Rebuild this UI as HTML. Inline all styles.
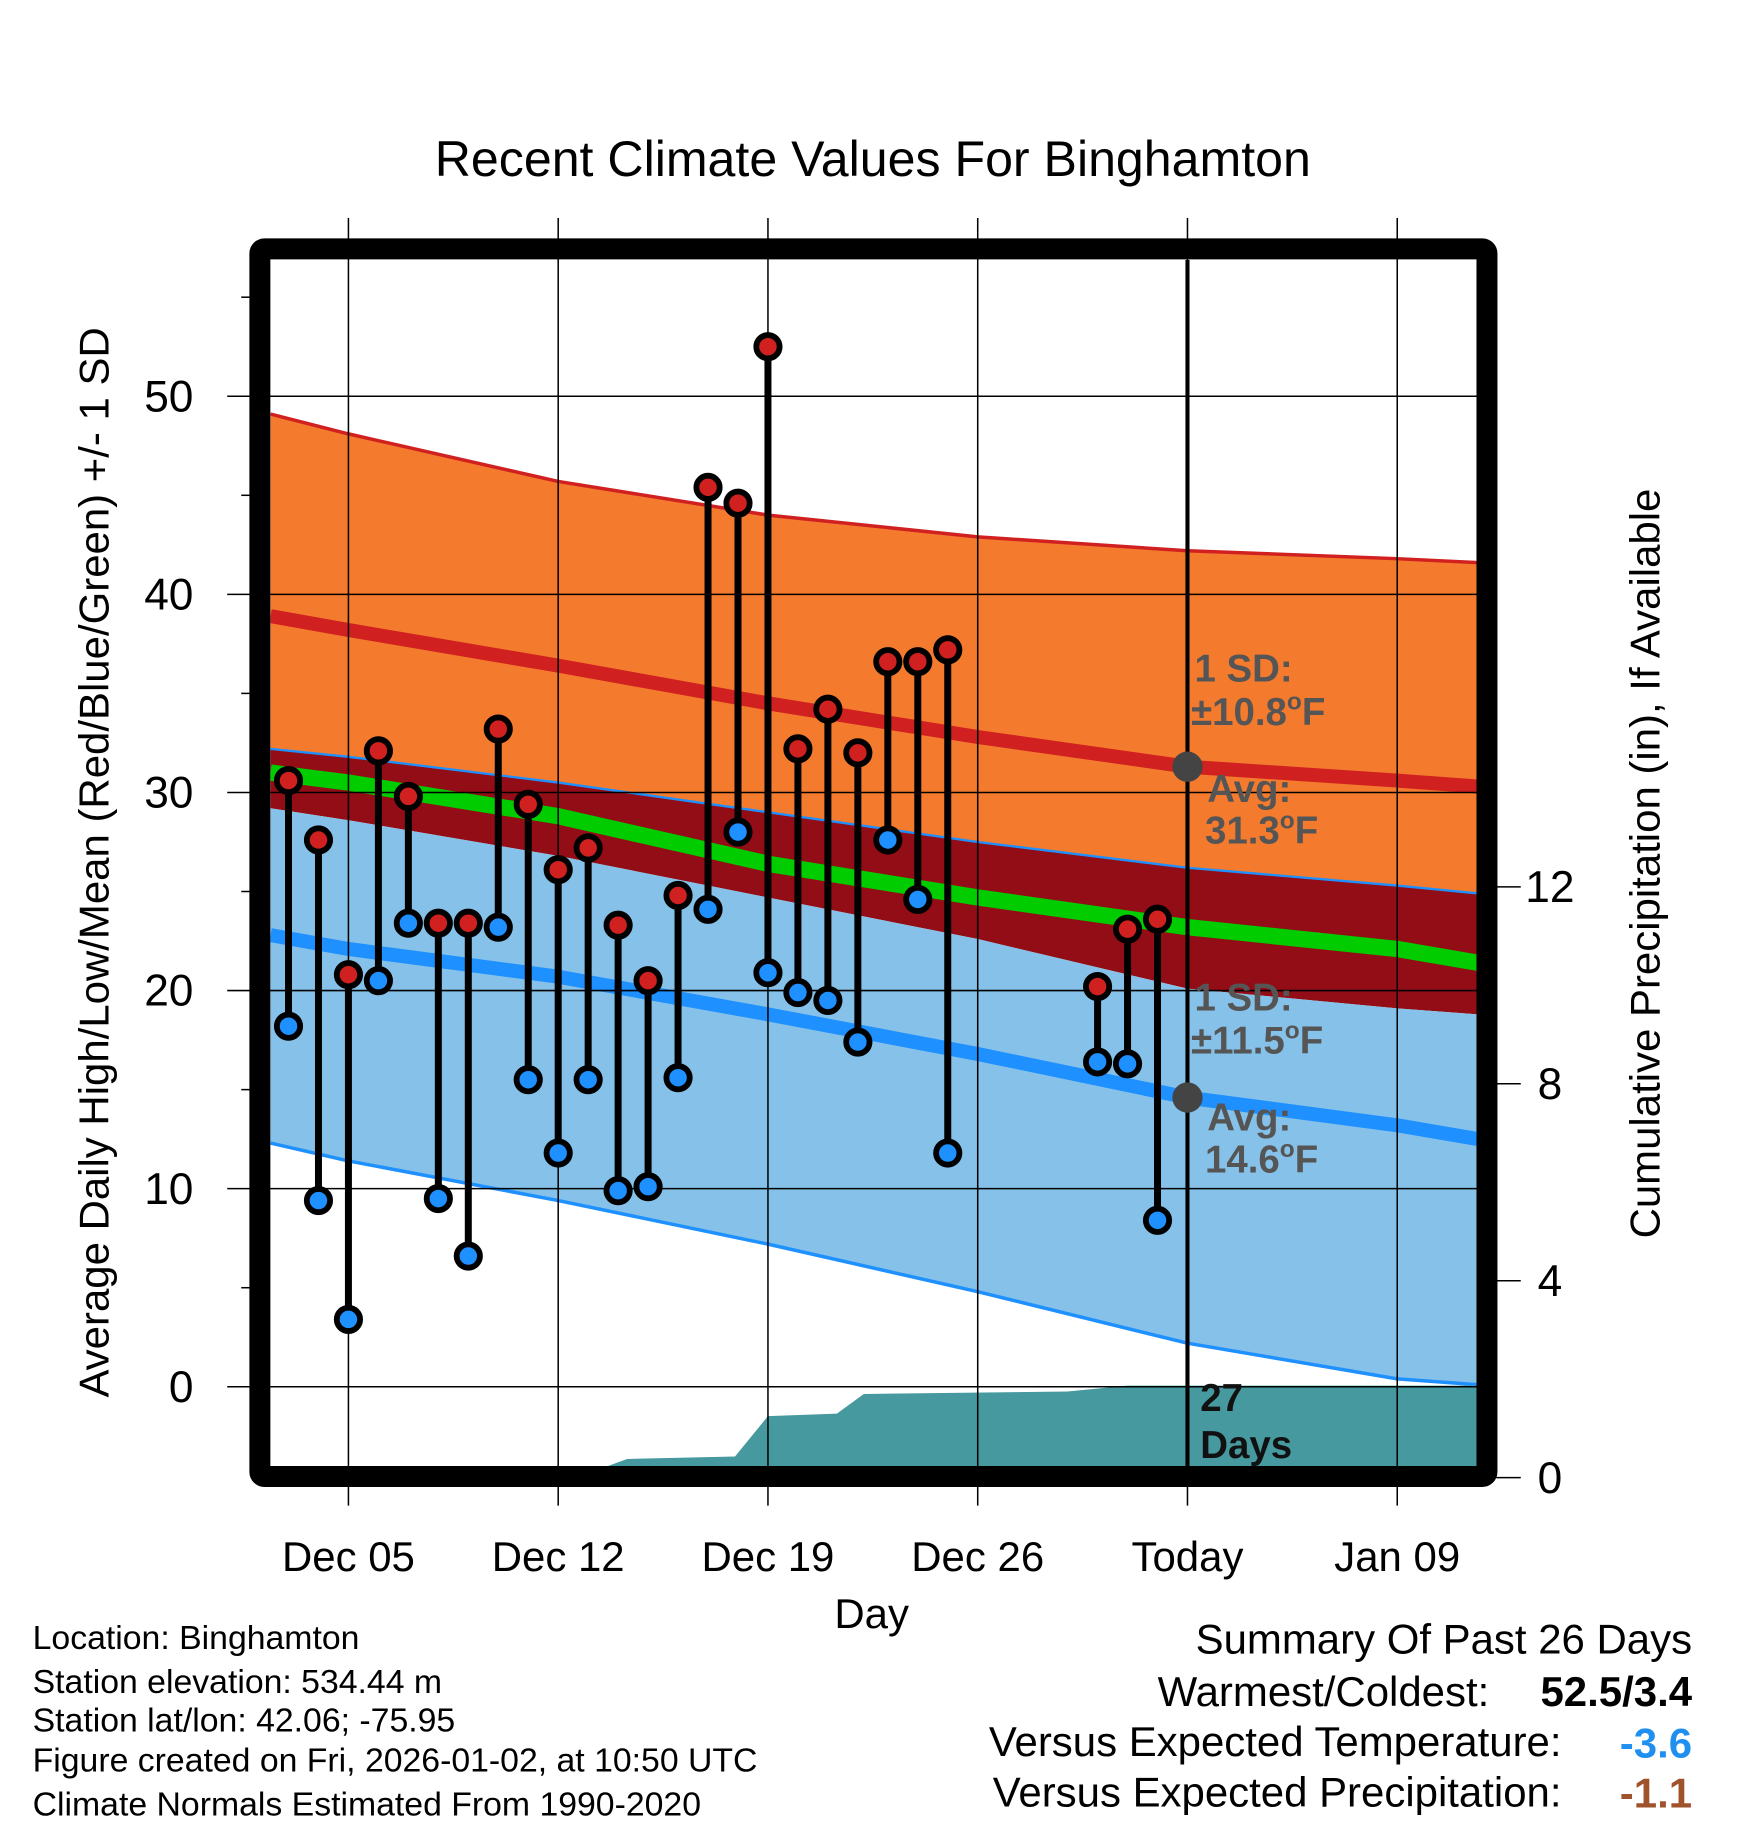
<!DOCTYPE html>
<html><head><meta charset="utf-8"><style>
html,body{margin:0;padding:0;background:#fff;}
svg{display:block;font-family:"Liberation Sans",Arial,sans-serif;}
</style></head><body>
<svg id="chart" width="1748" height="1828" viewBox="0 0 1500 1568.6" xmlns="http://www.w3.org/2000/svg">
<rect width="1500" height="1568.6" fill="#fff"/>
<defs><clipPath id="plotclip"><rect x="232" y="223" width="1036" height="1036"/></clipPath></defs>
<g id="fills" clip-path="url(#plotclip)"></g>
<g id="grid"></g>
<g id="marks" clip-path="url(#plotclip)"></g>
<g id="ticks"></g>
<g id="labels"></g>
<text x="749" y="151" font-size="43" text-anchor="middle">Recent Climate Values For Binghamton</text>
<text transform="translate(93,740) rotate(-90)" font-size="36" text-anchor="middle">Average Daily High/Low/Mean (Red/Blue/Green) +/- 1 SD</text>
<text transform="translate(1424,741) rotate(-90)" font-size="36" text-anchor="middle">Cumulative Precipitation (in), If Available</text>
<text x="748" y="1397" font-size="36" text-anchor="middle">Day</text>
<g font-size="29">
<text x="28" y="1415">Location: Binghamton</text>
<text x="28" y="1453">Station elevation: 534.44 m</text>
<text x="28" y="1486">Station lat/lon: 42.06; -75.95</text>
<text x="28" y="1520">Figure created on Fri, 2026-01-02, at 10:50 UTC</text>
<text x="28" y="1558">Climate Normals Estimated From 1990-2020</text>
</g>
<g font-size="36">
<text x="1452" y="1419" text-anchor="end">Summary Of Past 26 Days</text>
<text x="1278" y="1464" text-anchor="end">Warmest/Coldest:</text>
<text x="1452" y="1464" text-anchor="end" font-weight="bold">52.5/3.4</text>
<text x="1340" y="1507" text-anchor="end">Versus Expected Temperature:</text>
<text x="1452" y="1508" text-anchor="end" font-weight="bold" fill="#2090f0">-3.6</text>
<text x="1340" y="1550" text-anchor="end">Versus Expected Precipitation:</text>
<text x="1452" y="1551" text-anchor="end" font-weight="bold" fill="#a0522d">-1.1</text>
</g>
<g id="frame"></g>
</svg>
<script>
// day index: December day number; January = 31 + day
const normDays = [2.4, 5, 12, 19, 26, 33, 40, 42.7];
const hiUpper = [49.1, 48.1, 45.7, 44.0, 42.9, 42.2, 41.8, 41.6];
const hiAvg   = [38.9, 38.2, 36.4, 34.5, 32.8, 31.3, 30.6, 30.3];
const hiLower = [32.2, 31.8, 30.5, 29.0, 27.5, 26.2, 25.3, 24.9];
const meanAvg = [31.0, 30.5, 28.8, 26.4, 24.7, 23.2, 22.1, 21.4];
const loUpper = [29.2, 28.6, 26.8, 24.7, 22.6, 20.1, 19.1, 18.8];
const loAvg   = [22.8, 22.1, 20.7, 18.8, 16.8, 14.6, 13.2, 12.5];
const loLower = [12.3, 11.4, 9.4, 7.2, 4.8, 2.2, 0.4, 0.1];

const obsDays = [3,4,5,6,7,8,9,10,11,12,13,14,15,16,17,18,19,20,21,22,23,24,25,30,31,32];
const obsHigh = [30.6,27.6,20.8,32.1,29.8,23.4,23.4,33.2,29.4,26.1,27.2,23.3,20.5,24.8,45.4,44.6,52.5,32.2,34.2,32.0,36.6,36.6,37.2,20.2,23.1,23.6];
const obsLow  = [18.2,9.4,3.4,20.5,23.4,9.5,6.6,23.2,15.5,11.8,15.5,9.9,10.1,15.6,24.1,28.0,20.9,19.9,19.5,17.4,27.6,24.6,11.8,16.4,16.3,8.4];

const precipDays = [2.4,12.6,14.3,17.9,19.0,21.3,22.2,29.0,31.0,42.7];
const precipVals = [0,0,0.38,0.43,1.25,1.3,1.7,1.75,1.87,1.87];

const xTickLabels = ["Dec 05","Dec 12","Dec 19","Dec 26","Today","Jan 09"];
const xTickDays = [5,12,19,26,33,40];
const yTicks = [0,10,20,30,40,50];
const y2Ticks = [0,4,8,12];
const todayDay = 33;

const NS="http://www.w3.org/2000/svg";
const X=d=>299+(d-5)*(180/7);
const Y=v=>1190-17*v;
const P=p=>1268-42.25*p;
function el(tag,attrs,parent){const e=document.createElementNS(NS,tag);for(const k in attrs)e.setAttribute(k,attrs[k]);parent.appendChild(e);return e;}
const fills=document.getElementById('fills'),grid=document.getElementById('grid'),marks=document.getElementById('marks'),ticks=document.getElementById('ticks'),labels=document.getElementById('labels'),frame=document.getElementById('frame');
function pts(arr){return normDays.map((d,i)=>X(d)+','+Y(arr[i]));}
function band(top,bot,color,name){
  const p=pts(top).concat(pts(bot).reverse()).join(' ');
  const e=el('polygon',{points:p,fill:color},fills);
  
  
}
function line(arr,color,w,name){
  const e=el('polyline',{points:pts(arr).join(' '),fill:'none',stroke:color,'stroke-width':w,'stroke-linejoin':'round'},fills);
  
  
}
band(hiUpper,hiLower,'#f47a2e','high-sd-band');
band(hiLower,loUpper,'#920d15','overlap-band');
band(loUpper,loLower,'#85c1e8','low-sd-band');
line(hiUpper,'#d02020',3,'high-upper-line');
line(hiLower,'#1e90ff',2,'high-lower-line');
line(loLower,'#1e90ff',3,'low-lower-line');
line(hiAvg,'#d02020',12,'normal-high-line');
line(meanAvg,'#00cc00',14,'normal-mean-line');
line(loAvg,'#1e90ff',12,'normal-low-line');
// precipitation
{
  let p=precipDays.map((d,i)=>X(d)+','+P(precipVals[i]));
  p.push(X(42.7)+',1270');p.push(X(2.4)+',1270');
  const e=el('polygon',{points:p.join(' '),fill:'#45999f'},fills);
  
  
}
// grid
yTicks.forEach(v=>{
  const g=el('line',{x1:195,x2:1268,y1:Y(v),y2:Y(v),stroke:'#000','stroke-width':1.3},grid);
  
  
  const t=el('text',{x:166,y:Y(v)+13,'font-size':38,'text-anchor':'end'},labels);
  t.textContent=v;
  
  
});
[5,15,25,35,45,55].forEach(v=>{
  el('line',{x1:207,x2:216,y1:Y(v),y2:Y(v),stroke:'#000','stroke-width':1.3},ticks);
});
xTickDays.forEach((d,i)=>{
  const g=el('line',{x1:X(d),x2:X(d),y1:187,y2:1292,stroke:'#000','stroke-width':1.3},grid);
  
  
  const t=el('text',{x:X(d),y:1348,'font-size':36,'text-anchor':'middle'},labels);
  t.textContent=xTickLabels[i];
  
  
});
y2Ticks.forEach(v=>{
  el('line',{x1:1284,x2:1305,y1:P(v),y2:P(v),stroke:'#000','stroke-width':1.3},ticks);
  const t=el('text',{x:1330,y:P(v)+13,'font-size':38,'text-anchor':'middle'},labels);
  t.textContent=v;
  
  
});
// today line
{const e=el('line',{x1:X(todayDay),x2:X(todayDay),y1:223,y2:1259,stroke:'#000','stroke-width':3.5},marks);

}
// observations
obsDays.forEach((d,i)=>{
  const s=el('line',{x1:X(d),x2:X(d),y1:Y(obsHigh[i]),y2:Y(obsLow[i]),stroke:'#000','stroke-width':6},marks);
  
  
});
obsDays.forEach((d,i)=>{
  const h=el('circle',{cx:X(d),cy:Y(obsHigh[i]),r:10,fill:'#d02020',stroke:'#000','stroke-width':5},marks);
  
  
  const l=el('circle',{cx:X(d),cy:Y(obsLow[i]),r:10,fill:'#1e90ff',stroke:'#000','stroke-width':5},marks);
  
  
});
// today avg dots
[[hiAvg,5],[loAvg,5]].forEach(([a,i])=>{
  const c=el('circle',{cx:X(todayDay),cy:Y(a[i]),r:13,fill:'#444'},marks);
  
  
});
function ann(x,y,txt,sup,fill,name){
  const t=el('text',{x:x,y:y,'font-size':33,'font-weight':'bold',fill:fill},marks);
  
  
  t.appendChild(document.createTextNode(txt));
  if(sup){const s=el('tspan',{'font-size':21,dy:-13},t);s.textContent='o';const f=el('tspan',{dy:13},t);f.textContent='F';}
}
ann(1025,585,'1 SD:',false,'#555','high-sd-label');
ann(1022,622,'\u00b110.8',true,'#555','high-sd-value');
ann(1036,688,'Avg:',false,'#555','high-avg-label');
ann(1034,724,'31.3',true,'#555','high-avg-value');
ann(1025,867,'1 SD:',false,'#555','low-sd-label');
ann(1022,904,'\u00b111.5',true,'#555','low-sd-value');
ann(1036,970,'Avg:',false,'#555','low-avg-label');
ann(1034,1006,'14.6',true,'#555','low-avg-value');
ann(1030,1211,'27',false,'#111','days-count');
ann(1030,1251,'Days',false,'#111','days-label');
// frame
{const f=el('rect',{x:223,y:213.5,width:1053,height:1053.5,fill:'none',stroke:'#000','stroke-width':18,rx:4},frame);

}
</script>
</body></html>
